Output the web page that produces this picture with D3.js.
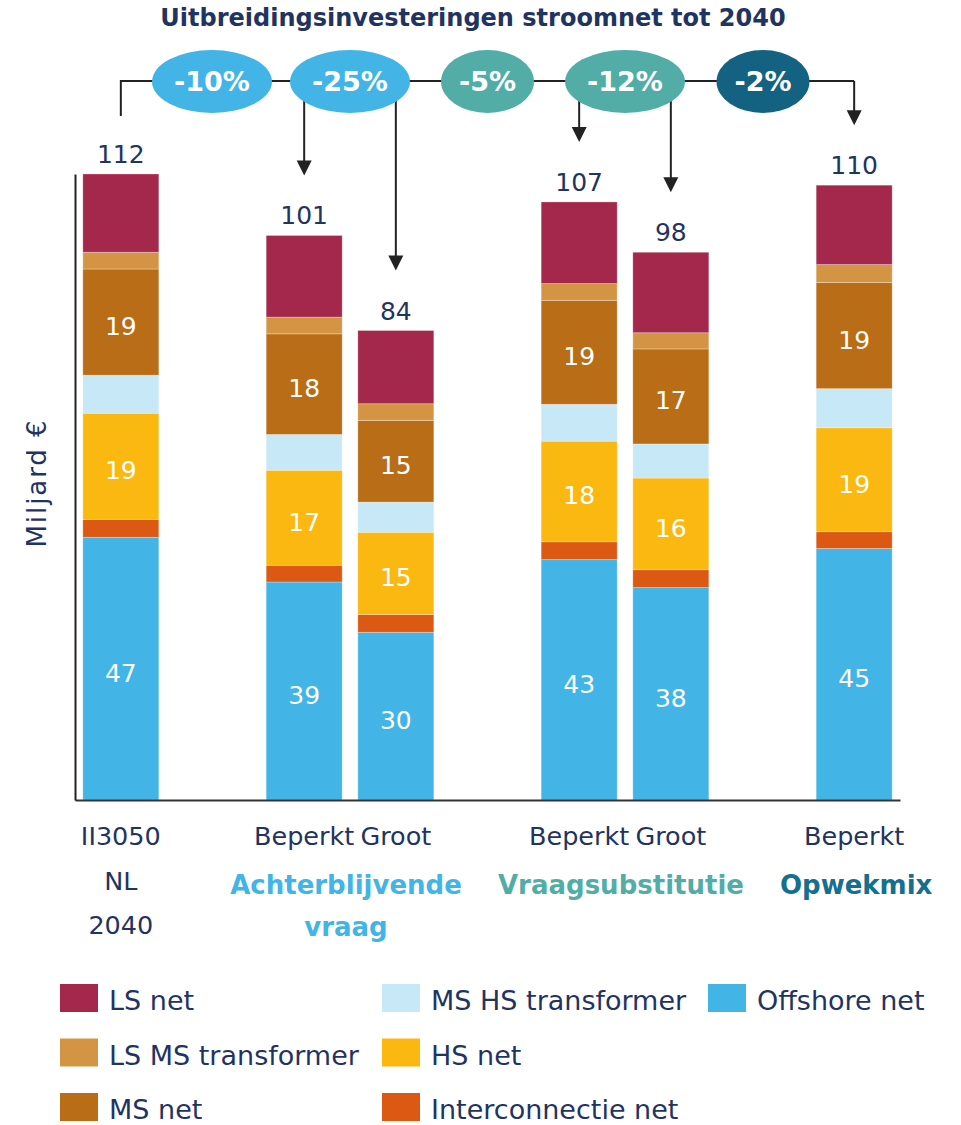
<!DOCTYPE html>
<html>
<head>
<meta charset="utf-8">
<script src="https://cdn.jsdelivr.net/npm/d3@7"></script>
<style>
  html, body { margin: 0; padding: 0; background: #fff; }
  svg { display: block; font-family: "DejaVu Sans", Verdana, sans-serif; }
</style>
</head>
<body>
<svg id="chart" width="961" height="1125"></svg>
<script>
// ---------- DATA ----------
const categories = ["II3050 NL 2040", "Achterblijvende vraag Beperkt", "Achterblijvende vraag Groot",
                    "Vraagsubstitutie Beperkt", "Vraagsubstitutie Groot", "Opwekmix Beperkt"];
const tickLabels = [["II3050", "NL", "2040"], ["Beperkt"], ["Groot"], ["Beperkt"], ["Groot"], ["Beperkt"]];
const categoryGroup = [-1, 0, 0, 1, 1, 2];
const groupLabels = [["Achterblijvende", "vraag"], ["Vraagsubstitutie"], ["Opwekmix"]];

const seriesNames = ["Offshore net", "Interconnectie net", "HS net", "MS HS transformer",
                     "MS net", "LS MS transformer", "LS net"];
const offshoreNet       = [47, 39, 30, 43, 38, 45];
const interconnectieNet = [3.2, 3.0, 3.2, 3.2, 3.2, 3.0];
const hsNet             = [19, 17, 14.7, 18, 16.4, 18.6];
const msHsTransformer   = [6.8, 6.4, 5.4, 6.6, 6.1, 7.0];
const msNet             = [19, 18, 14.6, 18.6, 17, 19];
const lsMsTransformer   = [3.0, 3.0, 3.0, 3.0, 2.9, 3.2];
const lsNet             = [14, 14.6, 13.1, 14.6, 14.4, 14.2];
const totals            = [112, 101, 84, 107, 98, 110];
const labelledSeries    = ["Offshore net", "HS net", "MS net"];

const changeLabels = ["-10%", "-25%", "-5%", "-12%", "-2%"];
const changeGroup  = [0, 0, 1, 1, 2];

// ---------- STYLE ----------
const navy = "#1f3461";
const seriesColors = {
  "Offshore net": "#42b4e5",
  "Interconnectie net": "#dc5913",
  "HS net": "#fbb810",
  "MS HS transformer": "#c7e8f7",
  "MS net": "#b86d16",
  "LS MS transformer": "#d39544",
  "LS net": "#a3284b"
};
const groupColors = ["#42b4e5", "#52ada7", "#156f8e"];
const ellipseColors = ["#42b4e5", "#52ada7", "#146281"];

const seriesValues = [offshoreNet, interconnectieNet, hsNet, msHsTransformer, msNet, lsMsTransformer, lsNet];
const table = categories.map((c, i) => {
  const row = { category: c };
  seriesNames.forEach((s, k) => row[s] = seriesValues[k][i]);
  return row;
});

const svg = d3.select("#chart");

// slots with gaps between groups
const slots = [];
categories.forEach((c, i) => {
  if (i > 0 && categoryGroup[i] !== categoryGroup[i - 1]) slots.push("gap" + i);
  slots.push(c);
});

const x = d3.scaleBand().domain(slots).range([75, 900]).paddingInner(0.171).paddingOuter(0.0855);
const y = d3.scaleLinear().domain([0, 112]).range([800, 174]);

const stack = d3.stack().keys(seriesNames);
const stacked = stack(table);

// bars
const layers = svg.append("g").selectAll("g").data(stacked).join("g")
  .attr("fill", d => seriesColors[d.key]);
layers.selectAll("rect").data(d => d.map(p => Object.assign(p, { key: d.key }))).join("rect")
  .attr("x", d => x(d.data.category))
  .attr("width", x.bandwidth())
  .attr("y", d => y(d[1]))
  .attr("height", d => y(d[0]) - y(d[1]))
  .attr("stroke", "rgba(255,255,255,0.35)")
  .attr("stroke-width", 0.8);

// inside labels
stacked.filter(s => labelledSeries.includes(s.key)).forEach(s => {
  svg.append("g").selectAll("text").data(s).join("text")
    .attr("x", d => x(d.data.category) + x.bandwidth() / 2)
    .attr("y", d => (y(d[0]) + y(d[1])) / 2 + 4)
    .attr("dy", "0.36em")
    .attr("text-anchor", "middle")
    .attr("fill", "#fff")
    .attr("font-size", 25)
    .text(d => Math.round(d[1] - d[0]));
});

// totals
svg.append("g").selectAll("text").data(categories).join("text")
  .attr("x", c => x(c) + x.bandwidth() / 2)
  .attr("y", (c, i) => y(totals[i]) - 11)
  .attr("text-anchor", "middle")
  .attr("fill", navy)
  .attr("font-size", 25)
  .text((c, i) => totals[i]);

// axes
const xAxis = svg.append("g").attr("transform", `translate(0,${y(0)})`)
  .call(d3.axisBottom(x).tickSize(0).tickSizeOuter(0).tickFormat(""));
xAxis.select(".domain").attr("stroke", "#333").attr("stroke-width", 2);
const yAxis = svg.append("g").attr("transform", "translate(75,0)")
  .call(d3.axisLeft(y).ticks(0).tickSize(0).tickSizeOuter(0));
yAxis.select(".domain").attr("stroke", "#222").attr("stroke-width", 2);
yAxis.selectAll(".tick").remove();

// category labels
categories.forEach((c, i) => {
  const t = svg.append("text")
    .attr("x", x(c) + x.bandwidth() / 2)
    .attr("y", 845)
    .attr("text-anchor", "middle")
    .attr("fill", navy)
    .attr("font-size", 25.5);
  tickLabels[i].forEach((line, j) => {
    t.append("tspan").attr("x", x(c) + x.bandwidth() / 2).attr("dy", j === 0 ? 0 : 44.5).text(line);
  });
});

// group labels
groupLabels.forEach((lines, g) => {
  const members = categories.filter((c, i) => categoryGroup[i] === g);
  const cx = d3.mean(members, c => x(c) + x.bandwidth() / 2) + (members.length > 1 ? -4 : 2);
  const t = svg.append("text")
    .attr("x", cx).attr("y", 894)
    .attr("text-anchor", "middle")
    .attr("fill", groupColors[g])
    .attr("font-weight", "bold")
    .attr("font-size", 26);
  lines.forEach((line, j) => {
    t.append("tspan").attr("x", cx).attr("dy", j === 0 ? 0 : 42).text(line);
  });
});

// y title
svg.append("text")
  .attr("transform", "translate(46,484) rotate(-90)")
  .attr("text-anchor", "middle")
  .attr("fill", navy)
  .attr("font-size", 26)
  .attr("textLength", 127)
  .attr("lengthAdjust", "spacing")
  .text("Miljard €");

// title
svg.append("text")
  .attr("x", 473).attr("y", 26)
  .attr("text-anchor", "middle")
  .attr("fill", navy)
  .attr("font-weight", "bold")
  .attr("font-size", 24)
  .text("Uitbreidingsinvesteringen stroomnet tot 2040");

// connector lines & arrows
const lineY = 81;
const cxOf = i => x(categories[i]) + x.bandwidth() / 2;
const conn = svg.append("g").attr("stroke", "#222").attr("stroke-width", 2).attr("fill", "none");
conn.append("path").attr("d", `M${cxOf(0)},116 V${lineY} H${cxOf(5)}`);
for (let i = 1; i < categories.length; i++) {
  const tip = y(totals[i]) - 60;
  conn.append("line").attr("x1", cxOf(i)).attr("x2", cxOf(i)).attr("y1", lineY).attr("y2", tip - 8);
  svg.append("path")
    .attr("d", `M${cxOf(i) - 7.5},${tip - 15} L${cxOf(i) + 7.5},${tip - 15} L${cxOf(i)},${tip} Z`)
    .attr("fill", "#222");
}

// change ellipses
const ellipseCx = [212, 350, 487.5, 625, 763];
const ellipseRx = [60, 60, 46.5, 60, 46.5];
const eg = svg.append("g");
changeLabels.forEach((lab, i) => {
  eg.append("ellipse")
    .attr("cx", ellipseCx[i]).attr("cy", 81.5)
    .attr("rx", ellipseRx[i]).attr("ry", 31.5)
    .attr("fill", ellipseColors[changeGroup[i]]);
  eg.append("text")
    .attr("x", ellipseCx[i]).attr("y", 81.5)
    .attr("dy", "0.36em")
    .attr("text-anchor", "middle")
    .attr("fill", "#fff")
    .attr("font-weight", "bold")
    .attr("font-size", 27)
    .text(lab);
});

// legend
const legendOrder = [["LS net", "LS MS transformer", "MS net"],
                     ["MS HS transformer", "HS net", "Interconnectie net"],
                     ["Offshore net"]];
const colX = [60, 382, 708];
legendOrder.forEach((col, ci) => {
  col.forEach((name, ri) => {
    const top = 984 + ri * 54.5;
    svg.append("rect").attr("x", colX[ci]).attr("y", top).attr("width", 38).attr("height", 28)
      .attr("fill", seriesColors[name]);
    svg.append("text").attr("x", colX[ci] + 49).attr("y", top + 26)
      .attr("fill", navy).attr("font-size", 27).text(name);
  });
});
</script>
</body>
</html>
